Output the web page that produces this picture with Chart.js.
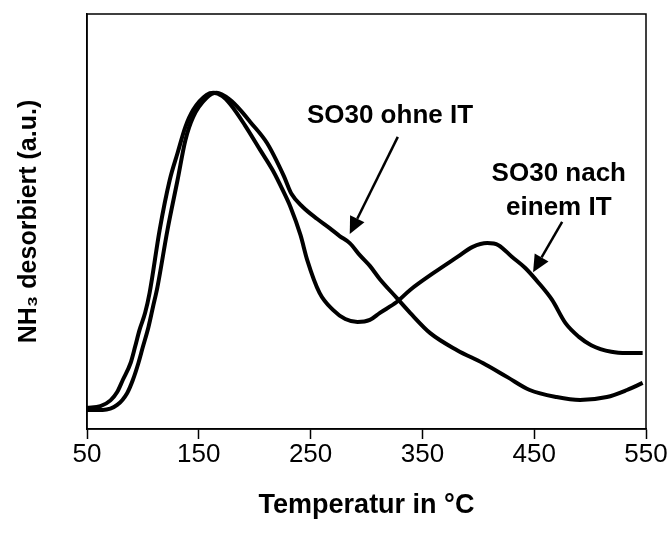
<!DOCTYPE html>
<html>
<head>
<meta charset="utf-8">
<script src="https://cdn.jsdelivr.net/npm/chart.js@4.4.1/dist/chart.umd.min.js"></script>
<style>
  html, body { margin: 0; padding: 0; background: #fff; }
  #wrap { width: 672px; height: 540px; }
</style>
</head>
<body>
<div id="wrap"><canvas id="tpd"></canvas></div>
<script>
// TPD curves, NH3 desorption vs temperature (arbitrary units)
const xTicks = [50, 150, 250, 350, 450, 550];

const tempNach = [50, 62, 71, 77, 82, 89, 93, 97, 102, 106, 115, 124, 131, 138, 145, 157, 163, 171, 178, 191, 205,
  216, 225, 232, 241, 247, 258, 270, 281, 292, 303, 312, 327, 339, 360, 381, 395, 408, 418, 430, 442,
  454, 466, 478, 490, 501, 519, 533, 547];
const nach = [5.1, 5.5, 6.9, 8.9, 11.8, 15.9, 19.8, 23.9, 28.0, 32.8, 48.0, 60.0, 66.5, 72.8, 76.9, 80.5, 81.0, 80.2, 78.3, 73.3, 67.2,
  62.4, 57.6, 53.5, 46.7, 40.7, 32.8, 28.7, 26.5, 25.8, 26.3, 28.0, 30.6, 33.5, 37.6, 41.4, 43.9, 44.8, 44.3, 41.5, 38.8,
  35.2, 31.1, 25.5, 22.2, 20.2, 18.6, 18.3, 18.3];

const tempOhne = [50, 57, 64, 77, 86, 91, 96, 100, 105, 109, 113, 122, 131, 138, 145, 157, 166, 178, 187, 196, 211, 226,
  233, 243, 256, 267, 276, 285, 294, 303, 312, 327, 339, 357, 381, 404, 426, 446, 470, 491, 515, 533, 547];
const ohne = [4.6, 4.6, 4.6, 5.8, 8.7, 11.8, 15.9, 19.8, 24.6, 29.4, 34.2, 48.0, 60.0, 69.6, 75.2, 79.8, 81.0, 79.3, 76.9, 74.0, 68.9, 61.0,
  56.6, 53.5, 50.6, 48.4, 46.5, 44.8, 41.9, 39.3, 36.1, 31.6, 28.0, 23.1, 19.0, 15.9, 12.5, 9.4, 7.7, 7.0, 7.7, 9.4, 11.1];

// labels with arrows, in data units
const notes = [
  { lines: ['SO30 ohne IT'], x: 321, y: 75.5, from: [328, 70.4], to: [285, 47] },
  { lines: ['SO30 nach', 'einem IT'], x: 472, y: 61.4, from: [475, 49.9], to: [449, 37.8] }
];

const FONT = 'Arial, "Liberation Sans", sans-serif';

const pairs = (xs, ys) => xs.map((x, i) => ({ x: x, y: ys[i] }));

const framePlugin = {
  id: 'frame',
  afterDraw(chart) {
    const { ctx, chartArea: a } = chart;
    ctx.save();
    ctx.strokeStyle = '#000';
    ctx.lineWidth = 1.5;
    ctx.strokeRect(a.left, a.top, a.right - a.left, a.bottom - a.top);
    ctx.restore();
  }
};

const notesPlugin = {
  id: 'notes',
  afterDatasetsDraw(chart) {
    const { ctx, scales: { x, y } } = chart;
    ctx.save();
    ctx.fillStyle = '#000';
    ctx.strokeStyle = '#000';
    ctx.font = 'bold 26px ' + FONT;
    ctx.textAlign = 'center';
    ctx.textBaseline = 'middle';
    notes.forEach(n => {
      const px = x.getPixelForValue(n.x);
      const py = y.getPixelForValue(n.y);
      n.lines.forEach((t, i) => ctx.fillText(t, px, py + i * 34));
      const x0 = x.getPixelForValue(n.from[0]), y0 = y.getPixelForValue(n.from[1]);
      const x1 = x.getPixelForValue(n.to[0]), y1 = y.getPixelForValue(n.to[1]);
      const ang = Math.atan2(y1 - y0, x1 - x0);
      const head = 17, half = 8;
      const bx = x1 - head * Math.cos(ang), by = y1 - head * Math.sin(ang);
      ctx.lineWidth = 2.5;
      ctx.beginPath();
      ctx.moveTo(x0, y0);
      ctx.lineTo(bx, by);
      ctx.stroke();
      ctx.beginPath();
      ctx.moveTo(x1, y1);
      ctx.lineTo(bx + half * Math.sin(ang), by - half * Math.cos(ang));
      ctx.lineTo(bx - half * Math.sin(ang), by + half * Math.cos(ang));
      ctx.closePath();
      ctx.fill();
    });
    ctx.restore();
  }
};

const lineStyle = {
  borderColor: '#000',
  borderWidth: 4,
  pointRadius: 0,
  fill: false,
  cubicInterpolationMode: 'monotone'
};

new Chart(document.getElementById('tpd'), {
  type: 'scatter',
  data: {
    datasets: [
      Object.assign({ label: 'SO30 nach einem IT', data: pairs(tempNach, nach), showLine: true }, lineStyle),
      Object.assign({ label: 'SO30 ohne IT', data: pairs(tempOhne, ohne), showLine: true }, lineStyle)
    ]
  },
  options: {
    responsive: true,
    maintainAspectRatio: false,
    animation: false,
    layout: { padding: { top: 14, right: 26, left: 0, bottom: 0 } },
    plugins: { legend: { display: false }, tooltip: { enabled: false } },
    scales: {
      x: {
        type: 'linear',
        min: 50,
        max: 550,
        afterBuildTicks: s => { s.ticks = xTicks.map(v => ({ value: v })); },
        afterFit: s => { s.height = 111; },
        border: { color: '#000', width: 1.5 },
        grid: { drawOnChartArea: false, drawTicks: true, tickLength: 10, tickColor: '#000', tickWidth: 1.5 },
        ticks: { color: '#000', font: { family: FONT, size: 26 }, padding: 0, maxRotation: 0 },
        title: {
          display: true,
          text: 'Temperatur in °C',
          color: '#000',
          font: { family: FONT, size: 27, weight: 'bold' },
          padding: { top: 0, bottom: 18 }
        }
      },
      y: {
        min: 0,
        max: 100,
        afterFit: s => { s.width = 87; },
        border: { color: '#000', width: 1.5 },
        grid: { display: false },
        ticks: { display: false },
        title: {
          display: true,
          text: 'NH₃ desorbiert (a.u.)',
          color: '#000',
          font: { family: FONT, size: 25, weight: 'bold' },
          padding: { top: 14, bottom: 0 }
        }
      }
    }
  },
  plugins: [framePlugin, notesPlugin]
});
</script>
</body>
</html>
